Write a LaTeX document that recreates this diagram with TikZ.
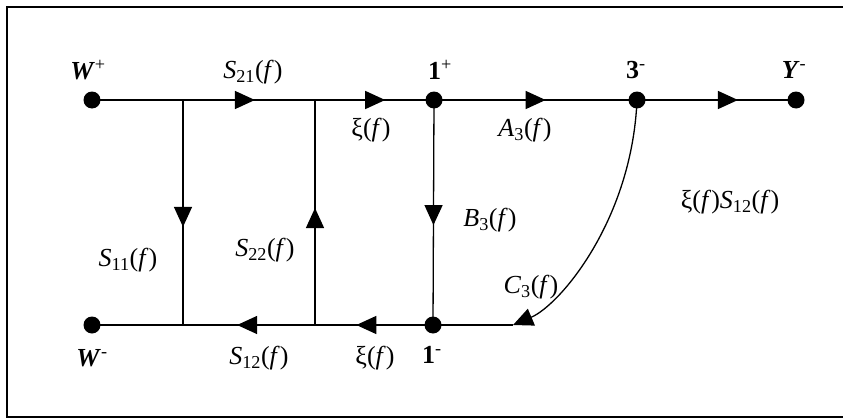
\documentclass[tikz,border=0pt]{standalone}
\usepackage{fontspec}
\setmainfont{Liberation Serif}
\usetikzlibrary{arrows.meta,decorations.markings}
\newcommand\ff{(\textit{f})}
\begin{document}
\begin{tikzpicture}[x=1pt,y=-1pt,
  dot/.style={circle,fill=black,inner sep=0pt,minimum size=17pt},
  wire/.style={line width=1.3pt},
  marr/.style={postaction={decorate},decoration={markings,mark=at position #1 with {\arrow{Triangle[length=20pt,width=18pt]}}}},
  lab/.style={font=\fontsize{26}{28}\selectfont,inner sep=0pt}
]
\useasboundingbox (0,0) rectangle (843,420);
\draw[line width=2.5pt] (843,7) -- (7,7) -- (7,417) -- (843,417);
% nodes
\node[dot] (wp) at (92,100) {};
\coordinate (j1) at (183,100);
\coordinate (j2) at (315,100);
\node[dot] (op) at (434,100) {};
\node[dot] (tm) at (637,100) {};
\node[dot] (y) at (796,100) {};
\node[dot] (wm) at (92,325) {};
\coordinate (k1) at (183,325);
\coordinate (k2) at (315,325);
\node[dot] (om) at (433,325) {};
\coordinate (ce) at (513,325);
% top line
\draw[wire] (wp.center) -- (j1);
\draw[wire,marr=0.545] (j1) -- (j2);
\draw[wire,marr=0.59] (j2) -- (op.center);
\draw[wire,marr=0.55] (op.center) -- (tm.center);
\draw[wire,marr=0.635] (tm.center) -- (y.center);
% bottom line
\draw[wire] (ce) -- (om.center);
\draw[wire,marr=0.65] (om.center) -- (k2);
\draw[wire,marr=0.59] (k2) -- (k1);
\draw[wire] (k1) -- (wm.center);
% verticals
\draw[wire,marr=0.564] (j1) -- (k1);
\draw[wire,marr=0.52] (k2) -- (j2);
\draw[wire,marr=0.556] (op.center) -- (om.center);
% curve
\draw[wire,-{Triangle[length=20pt,width=18pt]}] (tm.center) .. controls (632,220) and (560,305) .. (ce);
% labels
\node[lab] (lwp) at (88,70) {\textbf{\textit{W}}\textsuperscript{+}};
\node[lab] (ls21) at (253,72) {\textit{S}\textsubscript{21}\ff};
\node[lab] (lop) at (440,70) {\textbf{1}\textsuperscript{+}};
\node[lab] (ltm) at (636,70) {\textbf{3}\textsuperscript{-}};
\node[lab] (ly) at (794,70) {\textbf{\textit{Y}}\textsuperscript{-}};
\node[lab] (lx1) at (371,130) {ξ\ff};
\node[lab] (la3) at (525,130) {\textit{A}\textsubscript{3}\ff};
\node[lab] (lb3) at (490,220) {\textit{B}\textsubscript{3}\ff};
\node[lab] (ls22) at (265,250) {\textit{S}\textsubscript{22}\ff};
\node[lab] (ls11) at (128,260) {\textit{S}\textsubscript{11}\ff};
\node[lab] (lxs) at (730,202) {ξ\ff\textit{S}\textsubscript{12}\ff};
\node[lab] (lc3) at (531,287) {\textit{C}\textsubscript{3}\ff};
\node[lab] (lwm) at (92,358) {\textbf{\textit{W}}\textsuperscript{-}};
\node[lab] (ls12) at (259,358) {\textit{S}\textsubscript{12}\ff};
\node[lab] (lx2) at (375,358) {ξ\ff};
\node[lab] (lom) at (432,355) {\textbf{1}\textsuperscript{-}};
\end{tikzpicture}
\end{document}
